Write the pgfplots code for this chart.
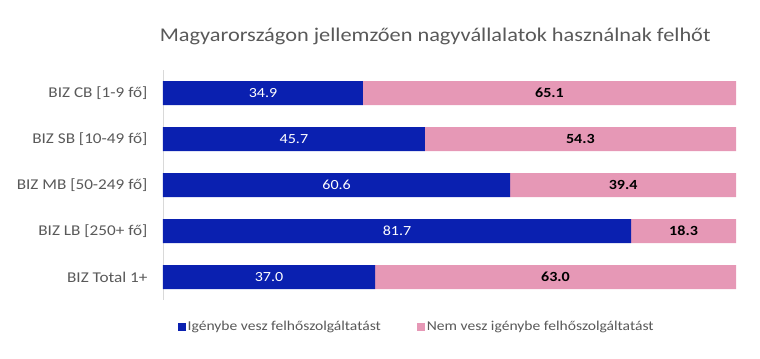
\documentclass[border=0pt]{standalone}
\usepackage{pgfplots}
\pgfplotsset{compat=1.18}
\usepackage{pgfplotstable}
\usepackage{fontspec}
\setmainfont{Carlito}[FakeStretch=1.15]
\definecolor{cblue}{RGB}{10,32,176}
\definecolor{cpink}{RGB}{230,152,182}
\definecolor{txtgray}{RGB}{89,89,89}
\pgfplotstableread{
y yes no
0 34.9 65.1
1 45.7 54.3
2 60.6 39.4
3 81.7 18.3
4 37.0 63.0
}\datatable
\begin{document}
\begin{tikzpicture}
\begin{axis}[
  scale only axis, width=573bp, height=230bp,
  xbar stacked, bar width=24bp,
  xmin=0, xmax=100, ymin=-0.5, ymax=4.5,
  y dir=reverse,
  ytick={0,1,2,3,4},
  yticklabels={BIZ CB [1-9 fő],BIZ SB [10-49 fő],BIZ MB [50-249 fő],BIZ LB [250+ fő],BIZ Total 1+},
  yticklabel style={font=\fontsize{15}{18}\selectfont, text=txtgray, xshift=-12bp},
  major tick length=0pt,
  axis x line=none,
  axis y line*=left,
  y axis line style={draw=black!15, line width=0.8pt},
  legend columns=2,
  legend style={draw=none, font=\fontsize{13.6}{16}\selectfont, text=txtgray,
    at={(rel axis cs:0.02,0)}, anchor=west, yshift=-27bp,
    /tikz/every even column/.append style={column sep=34bp}},
  legend image code/.code={\fill[#1,draw=none] (0bp,-4bp) rectangle (8bp,4bp);},
  clip=false,
]
\addplot[fill=cblue, draw=none] table[x=yes, y=y] {\datatable};
\addlegendentry{Igénybe vesz felhőszolgáltatást}
\addplot[fill=cpink, draw=none] table[x=no, y=y] {\datatable};
\addlegendentry{Nem vesz igénybe felhőszolgáltatást}
\coordinate (a0) at (axis cs:17.45,0);
\coordinate (b0) at (axis cs:67.45,0);
\coordinate (a1) at (axis cs:22.85,1);
\coordinate (b1) at (axis cs:72.85,1);
\coordinate (a2) at (axis cs:30.3,2);
\coordinate (b2) at (axis cs:80.3,2);
\coordinate (a3) at (axis cs:40.85,3);
\coordinate (b3) at (axis cs:90.85,3);
\coordinate (a4) at (axis cs:18.5,4);
\coordinate (b4) at (axis cs:68.5,4);
\coordinate (tt) at (rel axis cs:0.475,1);
\end{axis}
\begin{scope}[every node/.style={font=\fontsize{14}{16}\selectfont}]
\node[text=white] at (a0) {34.9};
\node[text=black, font=\fontsize{14}{16}\selectfont\bfseries] at (b0) {65.1};
\node[text=white] at (a1) {45.7};
\node[text=black, font=\fontsize{14}{16}\selectfont\bfseries] at (b1) {54.3};
\node[text=white] at (a2) {60.6};
\node[text=black, font=\fontsize{14}{16}\selectfont\bfseries] at (b2) {39.4};
\node[text=white] at (a3) {81.7};
\node[text=black, font=\fontsize{14}{16}\selectfont\bfseries] at (b3) {18.3};
\node[text=white] at (a4) {37.0};
\node[text=black, font=\fontsize{14}{16}\selectfont\bfseries] at (b4) {63.0};
\end{scope}
\node[font=\fontsize{19.5}{22}\selectfont, text=txtgray] at (tt) [yshift=34bp] {Magyarországon jellemzően nagyvállalatok használnak felhőt};
\path (current axis.south west) +(-163bp,-59bp);
\path (current axis.north east) +(24bp,70bp);
\end{tikzpicture}
\end{document}
